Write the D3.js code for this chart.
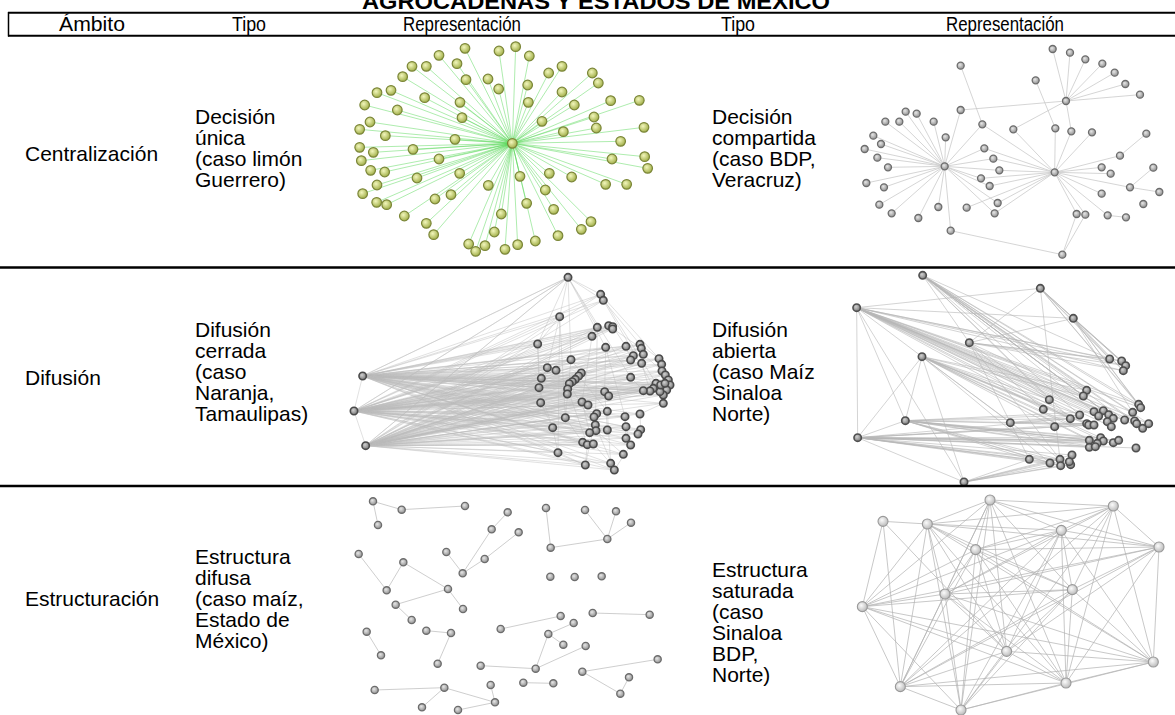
<!DOCTYPE html>
<html><head><meta charset="utf-8">
<script src="https://cdn.jsdelivr.net/npm/d3@7"></script>
<style>
body{margin:0;background:#fff}
svg{display:block}
text{font-family:"Liberation Sans",Arial,sans-serif;fill:#000}
</style>
</head><body>
<svg id="c" width="1175" height="715"></svg>
<script>
// ---------- TEXT DATA ----------
const title = "AGROCADENAS Y ESTADOS DE MÉXICO";
const headers = ["Ámbito", "Tipo", "Representación", "Tipo", "Representación"];
const ambitos = ["Centralización", "Difusión", "Estructuración"];
const tiposLeft = [
  ["Decisión", "única", "(caso limón", "Guerrero)"],
  ["Difusión", "cerrada", "(caso", "Naranja,", "Tamaulipas)"],
  ["Estructura", "difusa", "(caso maíz,", "Estado de", "México)"]
];
const tiposRight = [
  ["Decisión", "compartida", "(caso BDP,", "Veracruz)"],
  ["Difusión", "abierta", "(caso Maíz", "Sinaloa", "Norte)"],
  ["Estructura", "saturada", "(caso", "Sinaloa", "BDP,", "Norte)"]
];

// ---------- NETWORK DATA (layout coordinates) ----------
// 1. Decisión única: star
const g1Center = [517, 310];
const g1Leaves = [[375,25],[477,33],[527,20],[568,48],[297,46],[216,79],[259,79],[351,71],[626,99],[666,79],
  [757,99],[775,129],[188,110],[378,119],[444,117],[476,147],[563,135],[666,156],[111,158],[153,151],
  [254,173],[360,187],[565,187],[703,195],[812,182],[898,181],[74,195],[172,210],[366,233],[762,231],
  [606,244],[90,246],[59,268],[136,287],[670,275],[769,264],[912,262],[345,298],[842,304],[59,322],
  [100,337],[219,328],[64,362],[297,357],[816,357],[914,350],[923,385],[92,391],[134,396],[231,414],
  [359,400],[540,409],[628,400],[695,411],[797,433],[860,433],[111,435],[445,436],[616,450],[68,461],
  [333,464],[285,477],[560,490],[641,508],[110,487],[140,494],[193,528],[484,522],[259,550],[753,545],
  [724,568],[281,584],[463,576],[654,587],[586,603],[386,612],[407,634],[435,617],[495,628],[533,614]];

// 2. Decisión compartida
const g2Nodes = [[374,379],[704,397],[738,183],
  [698,27],[750,38],[796,58],[847,71],[884,98],[916,132],[960,164],[647,121],[422,77],[422,210],[580,268],[487,253],[706,265],[754,274],[816,277],
  [257,215],[290,221],[196,245],[238,245],[341,245],[160,287],[183,312],[134,327],[172,353],[204,382],[139,429],[192,442],[178,494],[215,520],[295,534],[355,501],[377,292],[392,572],
  [493,325],[520,356],[538,391],[483,415],[509,438],[533,489],[524,520],[440,503],
  [900,347],[845,382],[872,401],[930,442],[845,461],[863,526],[770,522],[796,524],[979,281],[1000,383],[1018,456],[918,532],[727,644],[970,492]];
const g2Adj = [
  [0, [12,14,18,19,20,21,22,23,24,25,26,27,28,29,30,31,32,33,34,35,36,37,38,39,40,41,42]],
  [1, [13,14,15,16,17,36,37,38,39,40,41,42,43,44,45,46,47,48,49,50,51]],
  [2, [3,4,5,6,7,8,9,12,13,16]],
  [10, [15]], [11, [14]], [44, [52]], [47, [53,54]], [49, [55]], [56, [50,51,35]]
];

// 3. Difusión cerrada
const g3Nodes = [[68,333],[42,438],[77,542],[684,37],
  [782,88],[790,106],[659,155],[772,187],[806,182],[818,185],[818,192],[756,214],[593,237],[797,247],
  [858,244],[900,238],[904,250],[910,268],[880,272],[872,285],[905,295],[693,284],[622,308],[648,316],
  [604,340],[724,324],[716,333],[706,343],[697,350],[688,356],[683,372],[682,387],[597,368],[872,337],
  [957,281],[965,298],[966,318],[976,330],[985,345],[990,360],[980,375],[970,390],[960,380],[948,355],
  [940,370],[930,378],[910,377],[970,415],[962,360],[975,355],[794,380],[806,393],[602,413],[726,411],
  [744,420],[770,446],[762,456],[802,439],[855,455],[900,447],[676,458],[766,480],[768,497],[749,503],
  [802,495],[858,485],[902,494],[894,507],[638,488],[728,532],[742,539],[760,537],[858,520],[872,540],
  [654,563],[850,568],[736,600],[812,595],[823,615]];
const g3Hubs = [0, 1, 2];
const g3Edges = [[0,1],[1,2],[3,4],[3,5],[3,6],[3,12],[3,13],[3,21],[3,7],[3,33],[4,5],[4,34],[5,15],
  [6,12],[6,22],[6,60],[6,74],[7,11],[7,61],[12,32],[12,52],[13,50],[14,19],[15,34],[17,36],[21,25],
  [22,24],[24,32],[25,31],[33,46],[34,38],[36,41],[50,64],[52,68],[53,63],[55,76],[57,77],[58,72],
  [59,66],[60,69],[61,78],[62,75],[65,73],[68,74],[70,76],[71,77],[73,78],[74,76],[47,59],[20,45],
  [9,14],[8,16],[11,53],[26,57],[29,62],[30,70],[4,41],[5,47],[13,58],[21,60],[32,68]];

// 4. Difusión abierta
const g4Nodes = [[308,31],[661,70],[110,128],[760,160],[448,233],[306,275],[256,467],[113,518],[571,473],[432,651],
  [869,282],[905,288],[917,302],[910,317],[800,376],[790,393],[688,404],[670,433],[956,418],[962,428],
  [938,442],[751,461],[779,450],[822,440],[850,437],[866,449],[836,453],[880,460],[862,470],[874,485],
  [800,476],[806,480],[822,480],[914,465],[944,468],[950,476],[986,476],[968,490],[704,485],[808,526],
  [842,518],[850,528],[832,535],[808,547],[826,545],[880,533],[896,526],[948,549],[628,583],[690,594],
  [720,583],[722,602],[752,599],[756,570],[748,590]];
const g4Adj = [
  [2, [1,3,5,6,7,9,10,11,12,13,14,15,16,17,18,19,20,21,22,23,24,25,26,27,28,29,30,33,34,36,37]],
  [0, [4,10,14,15,16,18,19,20,21,22,23,24,25,27,33,34,35,36]],
  [1, [3,4,10,11,12,13,18,19,51]],
  [3, [4,10,11,12,13,18,19,20]],
  [4, [10,11,12,13,15,16,17,48,50]],
  [5, [6,7,8,9,14,15,16,21,22,30,31,32,38,39,40,41,42,49,50]],
  [6, [7,21,22,23,30,31,39,40,41,42,43,44,45,46,48,49,50,51,52]],
  [7, [9,21,30,31,32,39,40,41,42,43,44,45,46,47,48,49,50,51,52,53,54]],
  [8, [21,22,30]],
  [9, [48,49,50,51,52,53,54]]
];

// 5. Estructura difusa
const g5Nodes = [[99,34],[185,59],[375,48],[114,105],[503,67],[455,118],[536,127],[319,186],[434,207],[368,250],
  [618,54],[632,173],[735,60],[828,64],[873,98],[802,147],[56,192],[140,301],[190,217],[324,297],
  [167,344],[215,390],[369,357],[631,260],[704,261],[785,259],[80,425],[123,496],[259,422],[333,429],
  [293,521],[482,417],[662,378],[758,369],[929,374],[701,399],[625,432],[670,464],[737,468],[587,536],
  [422,527],[727,545],[953,508],[867,562],[841,611],[104,600],[313,593],[246,652],[452,585],[465,637],
  [354,660],[550,578],[640,580]];
const g5Edges = [[0,1],[1,2],[0,3],[4,5],[5,9],[6,8],[8,9],[7,9],[10,11],[11,15],[12,15],[13,15],[14,15],
  [16,17],[17,18],[18,19],[19,20],[19,22],[20,21],[26,27],[28,29],[29,30],[31,32],[33,34],[35,36],[36,37],
  [36,39],[39,40],[39,38],[41,42],[41,44],[43,44],[45,46],[46,47],[46,49],[48,49],[49,50],[51,52]];

// 6. Estructura saturada
const g6Nodes = [[510,30],[880,48],[189,94],[322,102],[724,121],[467,179],[1017,171],[757,299],[375,312],
  [127,350],[560,484],[1000,516],[241,590],[738,579],[423,660]];
const g6Adj = [
  [0, [1,3,4,5,6,7,8,9,10,12,13,14]],
  [1, [3,4,5,6,7,8,11,12,13,14]],
  [2, [3,9,10,12]],
  [3, [4,5,6,7,8,9,10,11,12,13,14]],
  [4, [5,6,7,8,9,10,11,12,13,14]],
  [5, [6,7,8,9,10,11,12,13,14]],
  [6, [7,8,9,10,11,12,13]],
  [7, [8,9,10,11,12,13,14]],
  [8, [9,10,11,12,13,14]],
  [9, [10,11,12,13,14]],
  [10, [11,12,13,14]],
  [11, [12,13,14]],
  [12, [13,14]],
  [13, [14]]
];

// ---------- DRAW ----------
const svg = d3.select("#c");
const defs = svg.append("defs");
function grad(id, c0, c1) {
  const g = defs.append("radialGradient").attr("id", id).attr("cx", "40%").attr("cy", "38%").attr("r", "65%");
  g.append("stop").attr("offset", "0%").attr("stop-color", c0);
  g.append("stop").attr("offset", "100%").attr("stop-color", c1);
}
grad("gGreen", "#f2f6bc", "#9fad45");
grad("gGray", "#e6e6e6", "#8e8e8e");
grad("gDark", "#d0d0d0", "#777");
grad("gLight", "#fbfbfb", "#b9b9b9");

const adjToEdges = adj => adj.flatMap(([h, ts]) => ts.map(t => [h, t]));

function drawNet(nodes, edges, box, st) {
  const x = d3.scaleLinear().domain([0, box.w]).range([box.x0, box.x0 + box.w / 3]);
  const y = d3.scaleLinear().domain([0, box.h]).range([box.y0, box.y0 + box.h / 3]);
  const g = svg.append("g");
  g.append("g").selectAll("line").data(edges).join("line")
    .attr("x1", d => x(nodes[d[0]][0])).attr("y1", d => y(nodes[d[0]][1]))
    .attr("x2", d => x(nodes[d[1]][0])).attr("y2", d => y(nodes[d[1]][1]))
    .attr("stroke", st.edge).attr("stroke-width", st.ew).attr("stroke-opacity", st.eo);
  g.append("g").selectAll("circle").data(nodes).join("circle")
    .attr("cx", d => x(d[0])).attr("cy", d => y(d[1])).attr("r", st.r)
    .attr("fill", st.fill).attr("stroke", st.stroke).attr("stroke-width", st.sw);
}

// network 1
const n1 = [g1Center, ...g1Leaves];
drawNet(n1, g1Leaves.map((_, i) => [0, i + 1]), {x0: 340, y0: 40, w: 1020, h: 660},
  {edge: "#55d655", ew: 0.8, eo: 0.6, r: 4.8, fill: "url(#gGreen)", stroke: "#7b8638", sw: 1.2});
// network 2
drawNet(g2Nodes, adjToEdges(g2Adj), {x0: 820, y0: 40, w: 1065, h: 660},
  {edge: "#c4c4c4", ew: 0.8, eo: 0.9, r: 3.5, fill: "url(#gGray)", stroke: "#6c6c6c", sw: 1.3});
// network 3
const g3HubEdges = g3Hubs.flatMap(h => g3Nodes.map((_, i) => i).filter(i => i >= 3).map(i => [h, i]));
drawNet(g3Nodes, [...g3HubEdges, ...g3Edges, [0, 3], [1, 3], [2, 3]], {x0: 340, y0: 265, w: 1020, h: 675},
  {edge: "#bdbdbd", ew: 0.6, eo: 0.75, r: 3.7, fill: "url(#gDark)", stroke: "#4a4a4a", sw: 1.6});
// network 4
drawNet(g4Nodes, adjToEdges(g4Adj), {x0: 820, y0: 265, w: 1065, h: 675},
  {edge: "#b6b6b6", ew: 0.7, eo: 0.85, r: 3.7, fill: "url(#gDark)", stroke: "#4f4f4f", sw: 1.6});
// network 5
drawNet(g5Nodes, g5Edges, {x0: 340, y0: 490, w: 1020, h: 675},
  {edge: "#c8c8c8", ew: 0.9, eo: 1, r: 3.6, fill: "url(#gGray)", stroke: "#6c6c6c", sw: 1.3});
// network 6
drawNet(g6Nodes, adjToEdges(g6Adj), {x0: 820, y0: 490, w: 1065, h: 675},
  {edge: "#b2b2b2", ew: 0.8, eo: 0.9, r: 5, fill: "url(#gLight)", stroke: "#999", sw: 1.1});

// ---------- TABLE FRAME ----------
const rule = (x1, y1, x2, y2, w) => svg.append("line").attr("x1", x1).attr("y1", y1).attr("x2", x2).attr("y2", y2)
  .attr("stroke", "#000").attr("stroke-width", w);
rule(8, 12.8, 1175, 12.8, 2);
rule(8, 35.7, 1175, 35.7, 2);
rule(8.5, 12, 8.5, 36.5, 1.5);
rule(0, 267.5, 1175, 267.5, 2.5);
rule(0, 486, 1175, 486, 2.5);

// title (clipped at top, as in the reference)
svg.append("text").attr("x", 596).attr("y", 8.5).attr("text-anchor", "middle")
  .attr("font-size", 22).attr("font-weight", "bold")
  .attr("textLength", 468).attr("lengthAdjust", "spacingAndGlyphs").text(title);

// headers
const headerX = [92, 249, 462, 738, 1005];
const headerW = [66, 34, 118, 34, 118];
svg.append("g").selectAll("text").data(headers).join("text")
  .attr("x", (d, i) => headerX[i]).attr("y", 30.5).attr("text-anchor", "middle")
  .attr("font-size", 19.5).attr("textLength", (d, i) => headerW[i]).attr("lengthAdjust", "spacingAndGlyphs")
  .text(d => d);

// body text
const ambY = [161, 385, 606];
const leftY0 = [124, 337, 564];
const rightY0 = [124, 337, 577];
const lh = 21;
ambitos.forEach((t, i) => svg.append("text").attr("x", 25).attr("y", ambY[i]).attr("font-size", 21).text(t));
function block(lines, x, y0) {
  const t = svg.append("text").attr("x", x).attr("y", y0).attr("font-size", 21);
  lines.forEach((l, j) => t.append("tspan").attr("x", x).attr("y", y0 + j * lh).text(l));
}
tiposLeft.forEach((ls, i) => block(ls, 195, leftY0[i]));
tiposRight.forEach((ls, i) => block(ls, 712, rightY0[i]));
</script>
</body></html>
